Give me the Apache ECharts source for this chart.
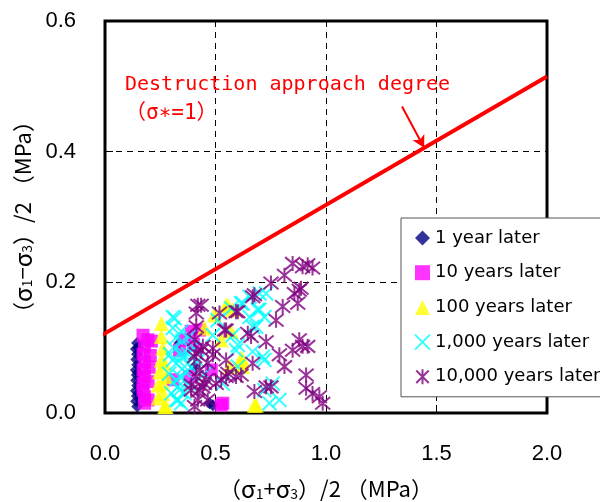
<!DOCTYPE html>
<html>
<head>
<meta charset="utf-8">
<script src="https://cdn.jsdelivr.net/npm/echarts@6/dist/echarts.min.js"></script>
<style>
  html, body { margin: 0; padding: 0; background: #fff; }
  #chart { width: 600px; height: 502px; }
</style>
</head>
<body>
<div id="chart"></div>
<script>
// Axis ticks
const xTicks = [0.0, 0.5, 1.0, 1.5, 2.0];
const yTicks = [0.0, 0.2, 0.4, 0.6];

// Legend / series names
const seriesNames = ['1 year later', '10 years later', '100 years later', '1,000 years later', '10,000 years later'];

// Stress states [(σ1+σ3)/2, (σ1−σ3)/2] in MPa for each elapsed time
const oneYear = [
  [0.145,0.107],[0.140,0.098],[0.145,0.090],[0.142,0.082],[0.146,0.074],[0.140,0.066],
  [0.144,0.058],[0.141,0.050],[0.146,0.042],[0.140,0.034],[0.144,0.026],[0.141,0.018],
  [0.146,0.010],[0.150,0.100],[0.150,0.062],[0.152,0.030],
  [0.337,0.107],[0.405,0.071],[0.473,0.015],[0.488,0.012]
];
const tenYears = [
  [0.172,0.119],[0.194,0.112],[0.179,0.102],[0.210,0.110],[0.172,0.090],[0.205,0.088],
  [0.179,0.078],[0.172,0.066],[0.200,0.070],[0.179,0.056],[0.172,0.045],[0.195,0.048],
  [0.172,0.035],[0.179,0.025],[0.195,0.020],[0.179,0.015],
  [0.390,0.125],[0.428,0.127],[0.360,0.112],[0.337,0.096],[0.383,0.056],[0.307,0.051],
  [0.481,0.066],[0.526,0.012],[0.533,0.015],[0.400,0.105]
];
const hundredYears = [
  [0.255,0.137],[0.255,0.117],[0.262,0.099],[0.255,0.081],[0.247,0.063],[0.277,0.056],
  [0.240,0.043],[0.262,0.030],[0.240,0.023],[0.270,0.010],[0.277,0.010],[0.262,0.045],
  [0.270,0.075],
  [0.548,0.165],[0.578,0.158],[0.556,0.165],[0.450,0.130],[0.526,0.112],[0.571,0.125],
  [0.623,0.081],[0.563,0.071],[0.608,0.074],[0.616,0.084],[0.623,0.071],[0.676,0.012],
  [0.684,0.012],[0.495,0.150]
];
const thousandYears = [
  [0.654,0.178],[0.699,0.183],[0.729,0.183],[0.616,0.168],[0.623,0.168],[0.699,0.158],
  [0.691,0.158],[0.315,0.145],[0.307,0.147],[0.654,0.147],[0.721,0.147],[0.571,0.160],
  [0.510,0.142],[0.345,0.125],[0.307,0.130],[0.383,0.117],[0.488,0.119],[0.578,0.119],
  [0.668,0.132],[0.684,0.132],[0.593,0.096],[0.601,0.104],[0.668,0.094],[0.714,0.086],
  [0.721,0.081],[0.352,0.091],[0.352,0.086],[0.322,0.076],[0.307,0.081],[0.360,0.071],
  [0.368,0.061],[0.322,0.051],[0.330,0.040],[0.337,0.035],[0.322,0.020],[0.330,0.020],
  [0.533,0.045],[0.601,0.071],[0.759,0.045],[0.789,0.020],[0.744,0.015],[0.721,0.035],
  [0.400,0.100],[0.420,0.080],[0.450,0.060],
  [0.290,0.060],[0.300,0.030],[0.310,0.100],[0.340,0.055],[0.360,0.030],[0.380,0.045],
  [0.350,0.110],[0.295,0.090],[0.320,0.115],[0.390,0.070],[0.345,0.015],[0.375,0.090]
];
const tenThousandYears = [
  [0.849,0.229],[0.812,0.211],[0.894,0.224],[0.917,0.227],[0.939,0.222],[0.751,0.199],
  [0.879,0.188],[0.857,0.183],[0.887,0.191],[0.804,0.163],[0.872,0.168],[0.774,0.142],
  [0.729,0.109],[0.879,0.112],[0.894,0.102],[0.917,0.102],[0.849,0.096],[0.789,0.089],
  [0.812,0.071],[0.910,0.058],[0.751,0.040],[0.910,0.038],[0.939,0.030],[0.970,0.025],
  [0.985,0.015],
  [0.668,0.178],[0.676,0.181],[0.420,0.165],[0.435,0.165],[0.413,0.132],[0.518,0.153],
  [0.593,0.155],[0.601,0.155],[0.541,0.127],[0.548,0.127],[0.646,0.122],[0.661,0.117],
  [0.488,0.099],[0.413,0.091],[0.435,0.096],[0.488,0.089],[0.428,0.066],[0.548,0.081],
  [0.668,0.076],[0.465,0.076],[0.548,0.056],[0.593,0.056],[0.556,0.061],[0.616,0.058],
  [0.526,0.051],[0.458,0.051],[0.443,0.040],[0.503,0.045],[0.450,0.045],[0.676,0.033],
  [0.405,0.010],[0.390,0.043],[0.443,0.102],[0.428,0.035],[0.420,0.020],[0.465,0.020],
  [0.729,0.040],[0.413,0.153],[0.405,0.112],[0.405,0.086],[0.413,0.056],[0.390,0.035]
];

// Failure envelope (σ* = 1) and the arrow pointing at it
const failureLine = [[-0.03, 0.116], [2.0, 0.515]];
const arrowFrom = [1.344, 0.469];
const arrowTo = [1.444, 0.406];

const annotationLines = ['Destruction approach degree', '（σ∗=1）'];

const chart = echarts.init(document.getElementById('chart'), null, { renderer: 'canvas' });

const tickFont = "'Liberation Sans Narrow', 'Liberation Sans', Arial, sans-serif";
const titleFont = "'Noto Sans CJK JP', 'Liberation Sans', sans-serif";

const crossPath = 'path://M0,0L20,20M20,0L0,20';
const starPath = 'path://M0,0L20,20M20,0L0,20M10,-2L10,22';

function scatter(name, data, symbol, size, color, stroke) {
  return {
    name: name,
    type: 'scatter',
    data: data,
    symbol: symbol,
    symbolSize: size,
    itemStyle: stroke
      ? { color: color, borderColor: color, borderWidth: 2 }
      : { color: color },
    emphasis: { disabled: true },
    z: 3
  };
}

const titleRich = {
  p: { fontSize: 22, fontFamily: titleFont, color: '#000' },
  g: { fontSize: 24, fontFamily: titleFont, color: '#000' },
  s: { fontSize: 14, fontFamily: titleFont, color: '#000', padding: [9, 0, 0, 0] }
};

chart.setOption({
  animation: false,
  backgroundColor: '#fff',
  grid: {
    left: 105, right: 53, top: 21, bottom: 89,
    containLabel: false,
    outerBoundsMode: 'none',
    show: true, borderColor: '#000', borderWidth: 3, backgroundColor: 'transparent'
  },
  xAxis: {
    type: 'value',
    min: xTicks[0], max: xTicks[xTicks.length - 1], interval: 0.5,
    axisLine: { show: false },
    axisTick: { show: true, inside: true, length: 8, lineStyle: { color: '#000', width: 1 } },
    axisLabel: {
      margin: 30, fontSize: 22, fontFamily: tickFont, color: '#000',
      formatter: v => v.toFixed(1)
    },
    splitLine: { show: true, lineStyle: { color: '#000', width: 1, type: [6, 5] } },
    name: '{p|（}{g|σ}{s|1}{p|+}{g|σ}{s|3}{p|）/2 （MPa）}',
    nameLocation: 'middle',
    nameGap: 64,
    nameTextStyle: { fontSize: 22, fontFamily: titleFont, color: '#000', rich: titleRich }
  },
  yAxis: {
    type: 'value',
    min: yTicks[0], max: yTicks[yTicks.length - 1], interval: 0.2,
    axisLine: { show: false },
    axisTick: { show: true, inside: true, length: 8, lineStyle: { color: '#000', width: 1 } },
    axisLabel: {
      margin: 29, fontSize: 22, fontFamily: tickFont, color: '#000',
      formatter: v => v.toFixed(1)
    },
    splitLine: { show: true, lineStyle: { color: '#000', width: 1, type: [6, 5] } },
    name: '{p|（}{g|σ}{s|1}{p|−}{g|σ}{s|3}{p|）/2 （MPa）}',
    nameLocation: 'middle',
    nameGap: 70,
    nameTextStyle: { fontSize: 22, fontFamily: titleFont, color: '#000', rich: titleRich }
  },
  legend: {
    orient: 'vertical',
    left: 401, top: 218,
    padding: [10, 14, 10, 13],
    itemGap: 14.7,
    itemWidth: 15, itemHeight: 15,
    backgroundColor: '#fff',
    borderColor: '#555', borderWidth: 1,
    textStyle: { fontSize: 18, fontFamily: "'DejaVu Sans', sans-serif", color: '#000', lineHeight: 20 },
    data: seriesNames,
    selectedMode: false
  },
  series: [
    scatter(seriesNames[0], oneYear, 'diamond', 12, '#000080', false),
    scatter(seriesNames[1], tenYears, 'rect', 13, '#ff00ff', false),
    scatter(seriesNames[2], hundredYears, 'triangle', 15, '#ffff00', false),
    scatter(seriesNames[3], thousandYears, crossPath, 14, '#00ffff', true),
    scatter(seriesNames[4], tenThousandYears, starPath, 15, '#800080', true),
    {
      name: 'failure',
      type: 'line',
      data: failureLine,
      symbol: 'none',
      clip: false,
      lineStyle: { color: '#ff0000', width: 4 },
      emphasis: { disabled: true },
      z: 4,
      markLine: {
        silent: true,
        symbol: ['none', 'arrow'],
        symbolSize: [10, 12],
        label: { show: false },
        lineStyle: { color: '#ff0000', width: 2, type: 'solid' },
        data: [[{ coord: arrowFrom }, { coord: arrowTo }]]
      }
    }
  ],
  graphic: [
    {
      type: 'text', left: 125, top: 75, z: 10,
      style: { text: annotationLines[0], fill: '#ff0000', fontSize: 20, fontFamily: "'DejaVu Sans Mono', monospace" }
    },
    {
      type: 'text', left: 125, top: 103, z: 10,
      style: { text: annotationLines[1], fill: '#ff0000', fontSize: 21, fontFamily: "'DejaVu Sans Mono', 'Noto Sans CJK JP', monospace" }
    }
  ]
});
</script>
</body>
</html>
